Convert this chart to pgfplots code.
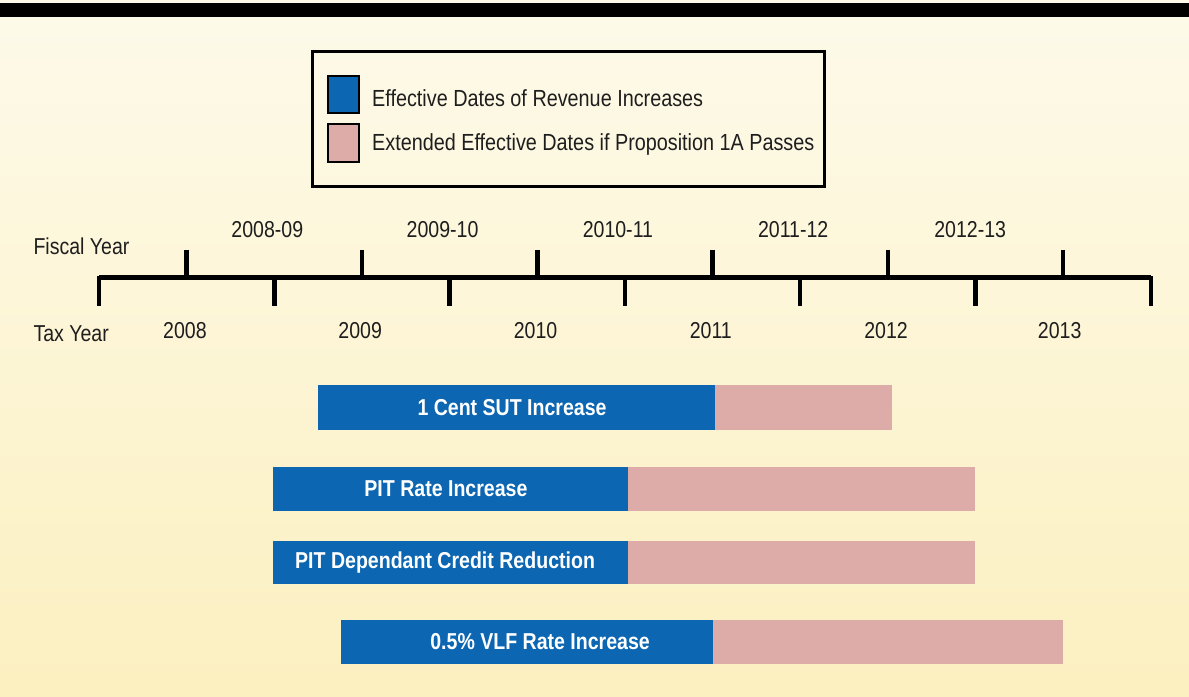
\documentclass[border=0pt]{standalone}
\usepackage{pgfplots}
\pgfplotsset{compat=1.18}
\usepackage{fontspec}
\setmainfont{Liberation Sans}[FakeStretch=0.85]
\definecolor{barblue}{RGB}{12,102,178}
\definecolor{barpink}{RGB}{222,172,168}
\definecolor{bgtop}{RGB}{253,250,234}
\definecolor{bgbot}{RGB}{252,240,192}
\definecolor{txt}{RGB}{30,30,30}
\begin{document}
\begin{tikzpicture}
\begin{axis}[
  width=1189pt, height=697pt, scale only axis,
  xmin=2007.435, xmax=2014.218, ymin=0, ymax=697, y dir=reverse,
  axis lines=none,
  axis background/.style={top color=bgtop, bottom color=bgbot},
  unbounded coords=jump,
]
% top black band
\fill[black] (axis cs:2007.435,3) rectangle (axis cs:2014.218,17);

% legend (drawn by hand to match the box layout)
\draw[black, line width=3pt] (axis cs:2009.215,51) rectangle (axis cs:2012.141,187);
\draw[fill=barblue, draw=black, line width=2.5pt] (axis cs:2009.305,76) rectangle (axis cs:2009.483,113);
\draw[fill=barpink, draw=black, line width=2.5pt] (axis cs:2009.305,124) rectangle (axis cs:2009.483,162);
\node[anchor=west, text=txt, inner sep=0pt, font=\fontsize{23.3}{26}\selectfont] at (axis cs:2009.557,98) {Effective Dates of Revenue Increases};
\node[anchor=west, text=txt, inner sep=0pt, font=\fontsize{23.3}{26}\selectfont] at (axis cs:2009.557,144) {Extended Effective Dates if Proposition 1A Passes};

% timeline main line
\addplot[black, line width=5pt] coordinates {(2008,278) (2014,278)};
% fiscal year ticks (above)
\addplot[black, line width=4.5pt] coordinates {
 (2008.5,250) (2008.5,278) (2008.5,nan)
 (2009.5,250) (2009.5,278) (2009.5,nan)
 (2010.5,250) (2010.5,278) (2010.5,nan)
 (2011.5,250) (2011.5,278) (2011.5,nan)
 (2012.5,250) (2012.5,278) (2012.5,nan)
 (2013.5,250) (2013.5,278)};
% tax year ticks (below)
\addplot[black, line width=4.5pt] coordinates {
 (2008,276) (2008,306) (2008,nan)
 (2009,278) (2009,306) (2009,nan)
 (2010,278) (2010,306) (2010,nan)
 (2011,278) (2011,306) (2011,nan)
 (2012,278) (2012,306) (2012,nan)
 (2013,278) (2013,306) (2013,nan)
 (2014,276) (2014,306)};

% bars: blue = effective dates, pink = extended dates
\addplot[fill=barblue, draw=none] coordinates {(2009.249,385) (2011.514,385) (2011.514,430) (2009.249,430)} -- cycle;
\addplot[fill=barpink, draw=none] coordinates {(2011.514,385) (2012.524,385) (2012.524,430) (2011.514,430)} -- cycle;
\addplot[fill=barblue, draw=none] coordinates {(2008.993,467) (2011.018,467) (2011.018,511) (2008.993,511)} -- cycle;
\addplot[fill=barpink, draw=none] coordinates {(2011.018,467) (2012.997,467) (2012.997,511) (2011.018,511)} -- cycle;
\addplot[fill=barblue, draw=none] coordinates {(2008.993,541) (2011.018,541) (2011.018,584) (2008.993,584)} -- cycle;
\addplot[fill=barpink, draw=none] coordinates {(2011.018,541) (2012.997,541) (2012.997,584) (2011.018,584)} -- cycle;
\addplot[fill=barblue, draw=none] coordinates {(2009.380,620) (2011.502,620) (2011.502,664) (2009.380,664)} -- cycle;
\addplot[fill=barpink, draw=none] coordinates {(2011.502,620) (2013.499,620) (2013.499,664) (2011.502,664)} -- cycle;

% axis labels
\node[anchor=west, text=txt, font=\fontsize{23}{26}\selectfont] at (axis cs:2007.606,246) {Fiscal Year};
\node[anchor=west, text=txt, font=\fontsize{23}{26}\selectfont] at (axis cs:2007.606,334) {Tax Year};
% fiscal year labels
\node[text=txt, font=\fontsize{23}{26}\selectfont] at (axis cs:2008.96,230) {2008-09};
\node[text=txt, font=\fontsize{23}{26}\selectfont] at (axis cs:2009.96,230) {2009-10};
\node[text=txt, font=\fontsize{23}{26}\selectfont] at (axis cs:2010.96,230) {2010-11};
\node[text=txt, font=\fontsize{23}{26}\selectfont] at (axis cs:2011.96,230) {2011-12};
\node[text=txt, font=\fontsize{23}{26}\selectfont] at (axis cs:2012.97,230) {2012-13};
% tax year labels
\node[text=txt, font=\fontsize{23}{26}\selectfont] at (axis cs:2008.49,331) {2008};
\node[text=txt, font=\fontsize{23}{26}\selectfont] at (axis cs:2009.49,331) {2009};
\node[text=txt, font=\fontsize{23}{26}\selectfont] at (axis cs:2010.49,331) {2010};
\node[text=txt, font=\fontsize{23}{26}\selectfont] at (axis cs:2011.49,331) {2011};
\node[text=txt, font=\fontsize{23}{26}\selectfont] at (axis cs:2012.49,331) {2012};
\node[text=txt, font=\fontsize{23}{26}\selectfont] at (axis cs:2013.48,331) {2013};
% bar labels
\node[text=white, font=\bfseries\fontsize{23}{26}\selectfont] at (axis cs:2010.356,407.5) {1 Cent SUT Increase};
\node[text=white, font=\bfseries\fontsize{23}{26}\selectfont] at (axis cs:2009.979,489) {PIT Rate Increase};
\node[text=white, font=\bfseries\fontsize{23}{26}\selectfont] at (axis cs:2009.974,562.5) {PIT Dependant Credit Reduction};
\node[text=white, font=\bfseries\fontsize{23}{26}\selectfont] at (axis cs:2010.516,642) {0.5\% VLF Rate Increase};
\end{axis}
\end{tikzpicture}
\end{document}
